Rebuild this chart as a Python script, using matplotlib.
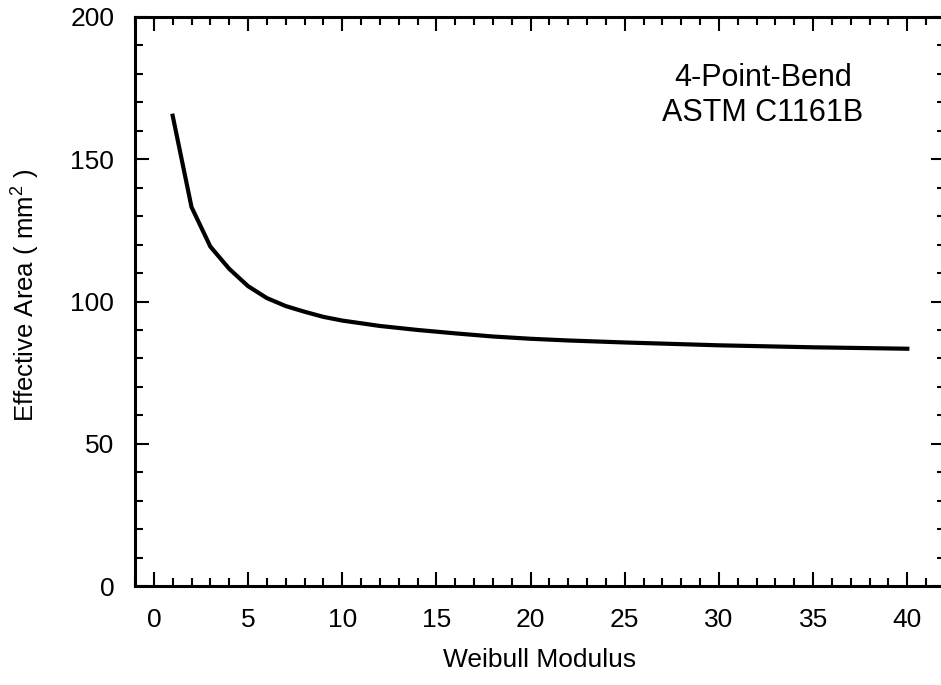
import matplotlib
matplotlib.use("Agg")
import matplotlib.pyplot as plt
from matplotlib.ticker import MultipleLocator

plt.rcParams['font.family'] = ['Liberation Sans', 'DejaVu Sans']
plt.rcParams['mathtext.fontset'] = 'custom'
plt.rcParams['mathtext.rm'] = 'Liberation Sans'
plt.rcParams['mathtext.it'] = 'Liberation Sans'

# values
weibull_m = [1, 2, 3, 4, 5, 6, 7, 8, 9, 10, 12, 14, 16, 18, 20, 22, 25, 28, 30, 35, 40]
eff_area = [165.3, 133.2, 119.3, 111.5, 105.4, 101.2, 98.4, 96.4, 94.6, 93.3,
            91.4, 90.0, 88.8, 87.7, 86.9, 86.3, 85.6, 85.0, 84.6, 83.9, 83.4]

x_ticks = [0, 5, 10, 15, 20, 25, 30, 35, 40]
y_ticks = [0, 50, 100, 150, 200]

fig = plt.figure(figsize=(9.41, 6.85), dpi=100)
ax = fig.add_axes([135 / 941, 99 / 685, 810 / 941, 569 / 685])

ax.plot(weibull_m, eff_area, color='black', linewidth=3, solid_joinstyle='miter')

ax.set_xlim(-1, 42)
ax.set_ylim(0, 200)
ax.set_xticks(x_ticks)
ax.set_yticks(y_ticks)
ax.xaxis.set_minor_locator(MultipleLocator(1))
ax.yaxis.set_minor_locator(MultipleLocator(10))

ax.tick_params(which='both', direction='in', top=True, right=True,
               width=1.5, colors='black', labelsize=19)
ax.tick_params(which='major', length=10)
ax.tick_params(which='minor', length=5.5)
ax.tick_params(axis='x', pad=16)
ax.tick_params(axis='y', pad=15)

for s in ax.spines.values():
    s.set_linewidth(2.2)

ax.set_xlabel('Weibull Modulus', fontsize=19, va='center')
ax.xaxis.set_label_coords(0.5, -0.13)
ax.set_ylabel('Effective Area ( mm$^{2}$ )', fontsize=18.5, va='center', ha='center')
ax.yaxis.set_label_coords(-0.135, 0.51)

ax.text(0.775, 0.862, '4-Point-Bend\nASTM C1161B', transform=ax.transAxes,
        ha='center', va='center', fontsize=22, linespacing=1.25)

fig.savefig('out.png', dpi=100)
